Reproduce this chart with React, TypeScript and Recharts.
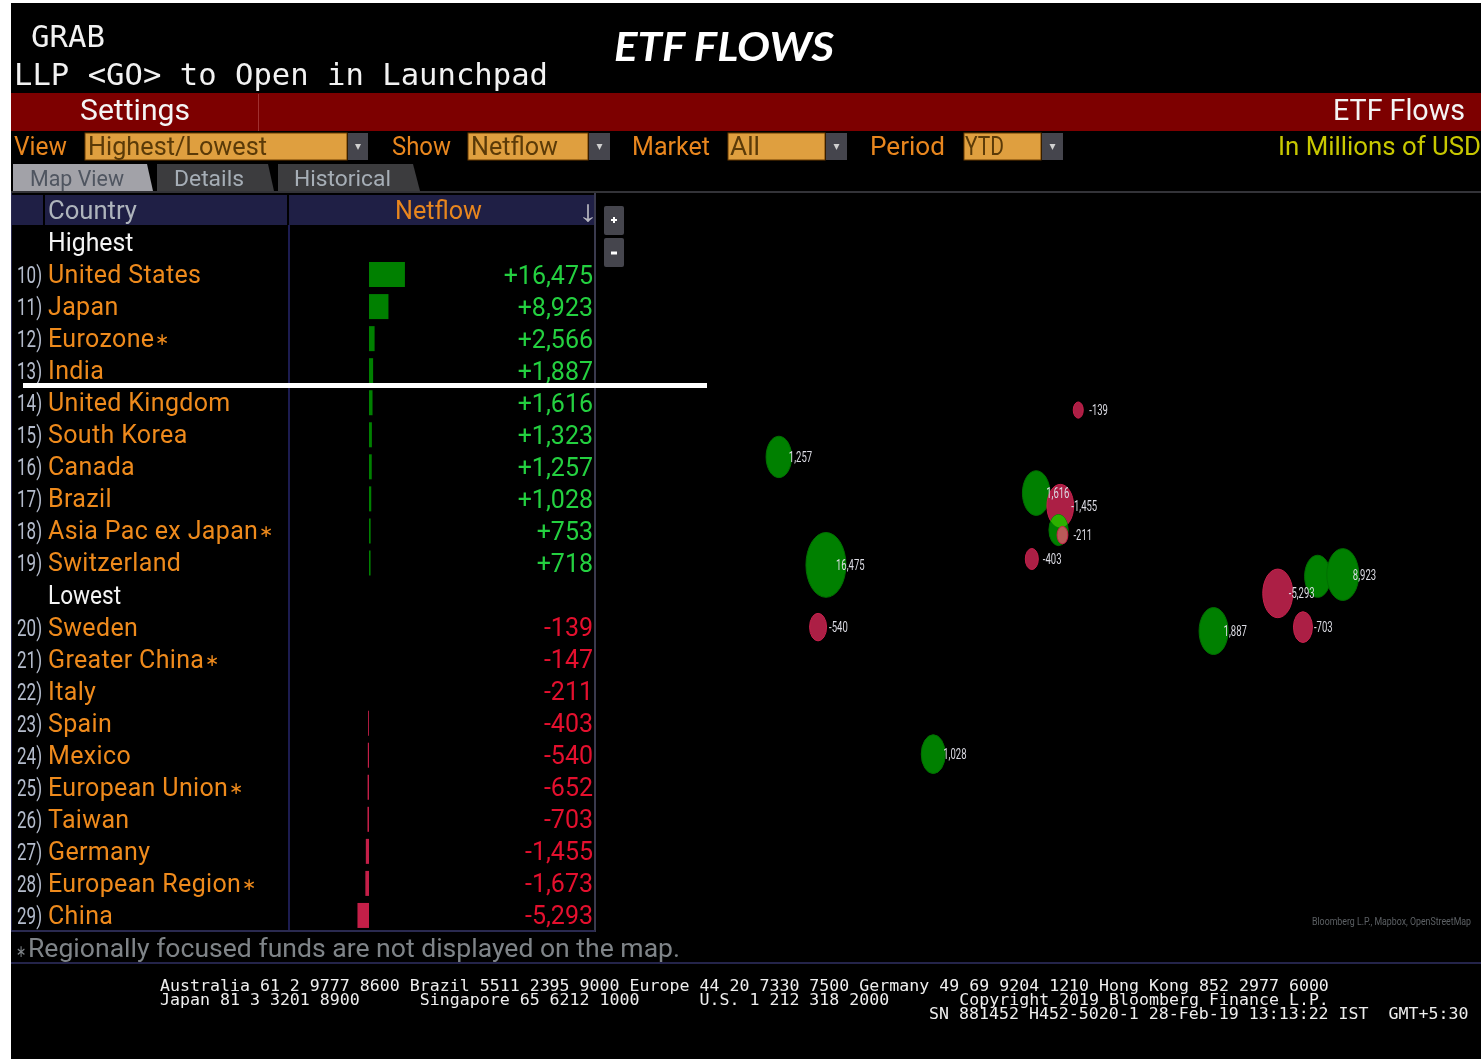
import React from 'react';
import { BarChart, Bar, XAxis, YAxis, Cell, LabelList, ScatterChart, Scatter } from 'recharts';

const highestCountries = ['United States', 'Japan', 'Eurozone*', 'India', 'United Kingdom', 'South Korea', 'Canada', 'Brazil', 'Asia Pac ex Japan*', 'Switzerland'];
const highestFlows = [16475, 8923, 2566, 1887, 1616, 1323, 1257, 1028, 753, 718];
const lowestCountries = ['Sweden', 'Greater China*', 'Italy', 'Spain', 'Mexico', 'European Union*', 'Taiwan', 'Germany', 'European Region*', 'China'];
const lowestFlows = [-139, -147, -211, -403, -540, -652, -703, -1455, -1673, -5293];

const mapCountries = ['Canada', 'United States', 'Mexico', 'Brazil', 'Sweden', 'United Kingdom', 'Germany', 'Switzerland', 'Italy', 'Spain', 'India', 'South Korea', 'Japan', 'China', 'Taiwan'];
const mapLon = [-119.5, -98, -101.6, -49, 17.2, -2, 9, 8.2, 10, -4, 79, 126.5, 138, 108.3, 119.8];
const mapLat = [92.5, 43.2, 14.8, -43.2, 113.9, 76, 70.1, 59.1, 56.8, 45.9, 13, 38, 38.8, 30.2, 14.8];
const unlabelled = ['South Korea', 'Switzerland'];

const radiusStops = [[139, 5], [403, 6.5], [540, 8.5], [703, 9.5], [1028, 12], [1323, 13], [1887, 14.5], [5293, 15], [8923, 16], [16475, 20]];

const phones = [
  'Australia 61 2 9777 8600 Brazil 5511 2395 9000 Europe 44 20 7330 7500 Germany 49 69 9204 1210 Hong Kong 852 2977 6000',
  'Japan 81 3 3201 8900      Singapore 65 6212 1000      U.S. 1 212 318 2000       Copyright 2019 Bloomberg Finance L.P.',
];
const serial = 'SN 881452 H452-5020-1 28-Feb-19 13:13:22 IST  GMT+5:30';

const allRows = [
  { name: 'Highest', value: null as number | null },
  ...highestCountries.map((name, i) => ({ name, value: highestFlows[i] as number | null })),
  { name: 'Lowest', value: null as number | null },
  ...lowestCountries.map((name, i) => ({ name, value: lowestFlows[i] as number | null })),
];
let counter = 10;
const tableRows = allRows.map((r) => ({ ...r, num: r.value === null ? null : counter++ }));
const flowOf = (c: string) => tableRows.find((r) => r.name === c)!.value as number;
const mapPoints = mapCountries.map((name, i) => ({ name, lon: mapLon[i], lat: mapLat[i], value: flowOf(name) }));

const fmt = (v: number) => (v > 0 ? '+' : '-') + Math.abs(v).toLocaleString('en-US');
const radius = (v: number) => {
  const a = Math.abs(v);
  for (let i = 1; i < radiusStops.length; i++) {
    const [x0, r0] = radiusStops[i - 1];
    const [x1, r1] = radiusStops[i];
    if (a <= x1) return r0 + ((a - x0) / (x1 - x0)) * (r1 - r0);
  }
  return 20;
};

const UI = 'Roboto, sans-serif';
const MONO = '"DejaVu Sans Mono", monospace';
const ORANGE = '#e8861e';
const BOX = '#df9f3f';
const RY = 1.62;

function Drop({ x, w, bx, bw, text, tx, tw }: any) {
  return (
    <g>
      <rect x={x} y={133} width={w} height={27} fill={BOX} stroke="#6b3b00" strokeWidth={1} />
      <rect x={bx} y={133} width={bw} height={27} fill="#45454d" />
      <polygon points={`${bx + bw / 2 - 3},${144} ${bx + bw / 2 + 3},${144} ${bx + bw / 2},${150}`} fill="#d0d0d0" />
      <text x={tx} y={155} fontFamily={UI} fontSize={25} fill="#5a3a08" textLength={tw} lengthAdjust="spacingAndGlyphs">{text}</text>
    </g>
  );
}

function Lbl({ x, y, w, fill, size = 25, children, family = UI, anchor, style, weight }: any) {
  return (
    <text x={x} y={y} fill={fill} fontSize={size} fontFamily={family} textLength={w} lengthAdjust="spacingAndGlyphs" textAnchor={anchor} style={style} fontWeight={weight}>
      {children}
    </text>
  );
}

function Chrome() {
  return (
    <svg width={1481} height={1059} style={{ position: 'absolute', left: 0, top: 0 }}>
      <rect width={1481} height={1059} fill="#fff" />
      <rect x={11} y={3} width={1470} height={1056} fill="#000" />
      <Lbl x={31} y={47} w={74} fill="#f2f2f2" size={31} family={MONO}>GRAB</Lbl>
      <Lbl x={14} y={85} w={534} fill="#f2f2f2" size={31} family={MONO}>LLP &lt;GO&gt; to Open in Launchpad</Lbl>
      <Lbl x={614} y={61} w={220} fill="#fff" size={41} weight={700} family="Lato, sans-serif" style={{ fontStyle: 'italic' }}>ETF FLOWS</Lbl>

      <rect x={11} y={93} width={1470} height={38} fill="#7d0000" />
      <rect x={258} y={94} width={1} height={37} fill="#a03030" />
      <Lbl x={80} y={120} w={110} fill="#f4f4f4" size={29}>Settings</Lbl>
      <Lbl x={1333} y={120} w={132} fill="#f4f4f4" size={29}>ETF Flows</Lbl>

      <Lbl x={14} y={155} w={53} fill={ORANGE}>View</Lbl>
      <Drop x={85} w={262} bx={348} bw={20} text="Highest/Lowest" tx={88} tw={179} />
      <Lbl x={392} y={155} w={59} fill={ORANGE}>Show</Lbl>
      <Drop x={468} w={120} bx={589} bw={21} text="Netflow" tx={471} tw={87} />
      <Lbl x={632} y={155} w={78} fill={ORANGE}>Market</Lbl>
      <Drop x={728} w={97} bx={826} bw={21} text="All" tx={730} tw={30} />
      <Lbl x={870} y={155} w={75} fill={ORANGE}>Period</Lbl>
      <Drop x={964} w={77} bx={1042} bw={21} text="YTD" tx={965} tw={39} />
      <Lbl x={1278} y={155} w={203} fill="#c8c800">In Millions of USD</Lbl>

      <polygon points="13,164 147,164 153,191 13,191" fill="#a2a2a8" />
      <polygon points="157,164 268,164 274,191 157,191" fill="#3c3c3e" />
      <polygon points="278,164 413,164 420,191 278,191" fill="#3c3c3e" />
      <Lbl x={30} y={186} w={94} fill="#4f5560" size={22}>Map View</Lbl>
      <Lbl x={174} y={186} w={70} fill="#a6aeb6" size={22}>Details</Lbl>
      <Lbl x={294} y={186} w={97} fill="#a6aeb6" size={22}>Historical</Lbl>
      <rect x={11} y={191} width={1470} height={2} fill="#333338" />

      <rect x={12} y={195} width={583} height={30} fill="#1f1f45" />
      <rect x={43} y={195} width={2} height={30} fill="#000" />
      <rect x={287} y={195} width={2} height={30} fill="#000" />
      <rect x={288} y={225} width={2} height={706} fill="#1c1c50" />
      <rect x={594} y={193} width={2} height={739} fill="#3a3a4e" />
      <rect x={11} y={193} width={1} height={739} fill="#2a2a50" />
      <rect x={12} y={930} width={583} height={2} fill="#2a2a50" />
      <Lbl x={48} y={219} w={89} fill="#aeb4bc">Country</Lbl>
      <Lbl x={395} y={219} w={87} fill={ORANGE}>Netflow</Lbl>
      <Lbl x={578} y={221} w={20} fill="#b8b8c0" size={30}>↓</Lbl>

      <rect x={604} y={206} width={20} height={29} rx={2} fill="#45454d" />
      <rect x={604} y={238} width={20} height={29} rx={2} fill="#45454d" />
      <path d="M611 220h6M614 217v6" stroke="#fff" strokeWidth={2} />
      <path d="M611 253h6" stroke="#fff" strokeWidth={3} />

      <Lbl x={16} y={957} w={10} fill="#7f8488" size={17}>∗</Lbl>
      <Lbl x={28} y={957} w={652} fill="#7f8488">Regionally focused funds are not displayed on the map.</Lbl>
      <rect x={11} y={962} width={1470} height={2} fill="#24244a" />
      <text x={160} y={991} fill="#eee" fontFamily={MONO} fontSize={16.6} style={{ whiteSpace: 'pre' }}>{phones[0]}</text>
      <text x={160} y={1005} fill="#eee" fontFamily={MONO} fontSize={16.6} style={{ whiteSpace: 'pre' }}>{phones[1]}</text>
      <text x={929} y={1019} fill="#eee" fontFamily={MONO} fontSize={16.6} style={{ whiteSpace: 'pre' }}>{serial}</text>
      <text transform="translate(1312 925) scale(0.8 1)" fill="#5c6064" fontSize={11} fontFamily={UI}>Bloomberg L.P., Mapbox, OpenStreetMap</text>
    </svg>
  );
}

function CountryTick({ y, payload }: any) {
  const row = tableRows.find((r) => r.name === payload.value)!;
  const star = row.name.endsWith('*');
  const name = star ? row.name.slice(0, -1) : row.name;
  const by = y + 9;
  if (row.num === null) {
    return <text x={36} y={by} fill="#f4f4f4" fontSize={25} fontFamily={UI} textLength={name.length * 12.2} lengthAdjust="spacingAndGlyphs">{name}</text>;
  }
  return (
    <g>
      <text transform={`translate(5 ${by}) scale(0.71 1)`} fill="#b4bccc" fontSize={24} fontFamily={UI}>{row.num + ')'}</text>
      <text x={36} y={by} fill="#ee8a1c" fontSize={25} fontFamily={UI} style={{ letterSpacing: '0.35px' }}>
        {name}
        {star ? <tspan fontSize={17} dx={1} dy={-2}>∗</tspan> : null}
      </text>
    </g>
  );
}

function ValueLabel({ y, height, value }: any) {
  if (value === null || value === undefined) return null;
  return (
    <text x={581} y={y + height / 2 + 9} textAnchor="end" fill={value > 0 ? '#24d040' : '#e4102e'} fontSize={25} fontFamily={UI}>
      {fmt(value)}
    </text>
  );
}

function Bubble({ cx, cy, payload }: any) {
  const rx = radius(payload.value);
  const pos = payload.value > 0;
  const ry = rx * RY;
  const fill = payload.name === 'Italy' ? '#b95a58' : pos ? '#008000' : '#ac1f45';
  return (
    <g>
      {payload.name === 'Germany' ? (
        <defs>
          <clipPath id="germany-overlap">
            <ellipse cx={cx} cy={cy} rx={rx} ry={ry} />
          </clipPath>
        </defs>
      ) : null}
      <ellipse cx={cx} cy={cy} rx={rx} ry={ry} fill={fill} stroke={pos ? '#007000' : '#c8204c'} strokeWidth={1} />
      {payload.name === 'Switzerland' ? <ellipse cx={cx} cy={cy} rx={rx} ry={ry} fill="#2db000" clipPath="url(#germany-overlap)" /> : null}
    </g>
  );
}

function BubbleText({ cx, cy, payload }: any) {
  if (unlabelled.includes(payload.name)) return null;
  const s = Math.abs(payload.value).toLocaleString('en-US');
  const t = (payload.value < 0 ? '-' : '') + s;
  return (
    <text transform={`translate(${cx + (payload.value < 0 ? 11 : 10)} ${cy + 5}) scale(0.68 1)`} fill="#dcdce4" fontSize={14} fontFamily={UI}>
      {t}
    </text>
  );
}

export default function App() {
  return (
    <div style={{ position: 'absolute', left: 0, top: 0, width: 1481, height: 1059, overflow: 'hidden', filter: 'blur(0.45px)', background: '#fff' }}>
      <Chrome />
      <div style={{ position: 'absolute', left: 12, top: 226 }}>
        <BarChart width={583} height={705} layout="vertical" data={tableRows} margin={{ top: 0, right: 0, bottom: 0, left: 0 }} barSize={25}>
          <XAxis type="number" hide domain={[-36240, 103670]} />
          <YAxis type="category" dataKey="name" width={278} interval={0} axisLine={false} tickLine={false} tick={<CountryTick />} />
          <Bar dataKey="value" isAnimationActive={false}>
            {tableRows.map((r) => (
              <Cell key={r.name} fill={Math.abs(r.value ?? 0) < 300 ? 'none' : (r.value ?? 0) > 0 ? '#008000' : '#c41f48'} />
            ))}
            <LabelList dataKey="value" content={<ValueLabel />} />
          </Bar>
        </BarChart>
      </div>
      <div style={{ position: 'absolute', left: 596, top: 193 }}>
        <ScatterChart width={885} height={739} margin={{ top: 0, right: 0, bottom: 0, left: 0 }}>
          <XAxis type="number" dataKey="lon" hide domain={[-203, 201.1]} />
          <YAxis type="number" dataKey="lat" hide domain={[-124.4, 213]} />
          <Scatter data={mapPoints} shape={<Bubble />} isAnimationActive={false} />
          <Scatter data={mapPoints} shape={<BubbleText />} isAnimationActive={false} />
        </ScatterChart>
      </div>
      <div style={{ position: 'absolute', left: 23, top: 383, width: 684, height: 5, background: '#fff' }} />
    </div>
  );
}
